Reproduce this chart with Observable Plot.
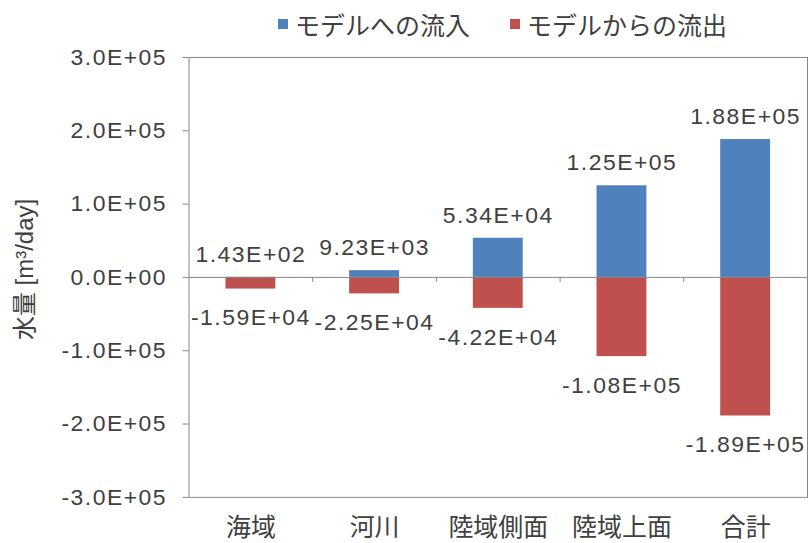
<!DOCTYPE html>
<html><head><meta charset="utf-8">
<script src="https://cdn.jsdelivr.net/npm/d3@7"></script>
<script src="https://cdn.jsdelivr.net/npm/@observablehq/plot@0.6"></script>
<style>
html,body{margin:0;padding:0;background:#fff;overflow:hidden;width:808px;height:543px}
#legend{position:absolute;left:0;top:0;width:808px;height:48px;font-family:"Noto Sans CJK JP",sans-serif;font-size:25px;color:#404040}
.item{position:absolute;top:0;height:48px;display:flex;align-items:center;white-space:nowrap}
.sw{width:10px;height:10px;margin-right:7px;display:inline-block}
#chart{position:absolute;left:0;top:40px}
g.val text, g[aria-label="y-axis tick label"] text{letter-spacing:1.5px}
</style></head><body>
<div id="legend"></div>
<div id="chart"></div>
<script>
const categories = ["海域", "河川", "陸域側面", "陸域上面", "合計"];
const inflow = [143, 9230, 53400, 125000, 188000];
const outflow = [-15900, -22500, -42200, -108000, -189000];
const seriesNames = ["モデルへの流入", "モデルからの流出"];
const seriesColors = ["#4F81BD", "#C0504D"];
const yTicks = [-300000, -200000, -100000, 0, 100000, 200000, 300000];
const yLabel = "水量 [m³/day]";

function sci(v, digits) {
  const [m, e] = v.toExponential(digits).split("e");
  const n = +e;
  return m + "E" + (n < 0 ? "-" : "+") + String(Math.abs(n)).padStart(2, "0");
}

const rows = [];
categories.forEach((c, i) => {
  rows.push({category: c, series: seriesNames[0], value: inflow[i]});
  rows.push({category: c, series: seriesNames[1], value: outflow[i]});
});
const inRows = rows.filter(d => d.series === seriesNames[0]);
const outRows = rows.filter(d => d.series === seriesNames[1]);

// legend
const legend = document.getElementById("legend");
const legendLeft = [278, 510];
seriesNames.forEach((s, i) => {
  const it = document.createElement("div");
  it.className = "item";
  it.style.left = legendLeft[i] + "px";
  it.innerHTML = `<span class="sw" style="background:${seriesColors[i]}"></span><span>${s}</span>`;
  legend.appendChild(it);
});

const latin = "'Liberation Sans', Arial, 'Noto Sans CJK JP', sans-serif";
const cjk = "'Noto Sans CJK JP', sans-serif";
const gray = "#868686";
const ink = "#404040";
const width = 810, marginLeft = 189, marginRight = 1;
const step = (width - marginLeft - marginRight) / categories.length;

const chart = Plot.plot({
  width,
  height: 503,
  marginTop: 17,
  marginBottom: 45,
  marginLeft,
  marginRight,
  style: {fontFamily: latin, background: "#fff", color: ink, overflow: "visible"},
  x: {domain: categories, paddingInner: 0.6, paddingOuter: 0.3},
  y: {domain: [-300000, 300000]},
  color: {domain: seriesNames, range: seriesColors},
  marks: [
    Plot.frame({stroke: gray}),
    Plot.barY(rows, {x: "category", y: "value", fill: "series"}),
    Plot.ruleY([0], {stroke: gray}),
    Plot.ruleX(categories.slice(1), {x: d => d, y1: 0, y2: 0, insetBottom: -5, dx: -step / 2, stroke: gray}),
    Plot.text(inRows, {x: "category", y: "value", text: d => sci(d.value, 2), dy: -23, fontSize: 23, fill: ink, className: "val"}),
    Plot.text(outRows, {x: "category", y: "value", text: d => sci(d.value, 2), dy: 29, fontSize: 23, fill: ink, className: "val"}),
    Plot.axisY({ticks: yTicks, tickFormat: d => sci(d, 1), tickSize: 6, tickPadding: 16, fontSize: 23,
      color: ink, stroke: gray, label: null}),
    Plot.text([yLabel], {text: d => d, frameAnchor: "left", textAnchor: "middle", lineAnchor: "middle",
      dx: -164, dy: -8, rotate: -90, fontSize: 24, fill: ink}),
    Plot.axisX({tickSize: 0, tickPadding: 21, fontSize: 25, fontFamily: cjk, color: ink, label: null})
  ]
});
document.getElementById("chart").appendChild(chart);
</script>
</body></html>
